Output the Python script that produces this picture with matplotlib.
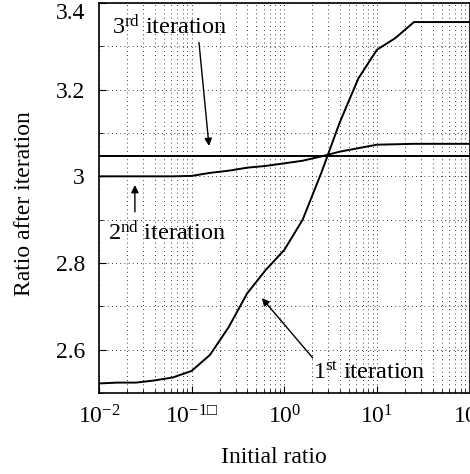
import numpy as np
import matplotlib
matplotlib.use("Agg")
import matplotlib.pyplot as plt
import matplotlib.transforms as mtransforms
from matplotlib.ticker import LogLocator, NullFormatter, MultipleLocator

plt.rcParams['font.family'] = ['Liberation Serif', 'DejaVu Sans']
plt.rcParams['mathtext.fontset'] = 'custom'
plt.rcParams['mathtext.rm'] = 'Liberation Serif'
plt.rcParams['mathtext.it'] = 'Liberation Serif:italic'
plt.rcParams['mathtext.fallback'] = 'stix'

initial_ratio = [0.01, 0.0158, 0.0251, 0.0398, 0.0631, 0.1, 0.158, 0.251, 0.398, 0.631,
                 1.0, 1.58, 2.51, 3.98, 6.31, 10.0, 15.8, 25.1, 39.8, 63.1, 100.0]
iter1 = [2.522, 2.524, 2.524, 2.529, 2.536, 2.551, 2.588, 2.652, 2.730, 2.784,
         2.830, 2.900, 3.008, 3.125, 3.226, 3.292, 3.319, 3.356, 3.356, 3.356, 3.356]
iter2 = [3.000, 3.000, 3.000, 3.000, 3.000, 3.001, 3.008, 3.013, 3.020, 3.024,
         3.030, 3.036, 3.046, 3.057, 3.065, 3.073, 3.074, 3.075, 3.075, 3.075, 3.075]
iter3 = [3.047] * len(initial_ratio)

x_ticks = [0.01, 0.1, 1, 10, 100]
x_ticklabels = [r'$10^{-2}$', '$10^{-1\u25a1}$', r'$10^{0}$', r'$10^{1}$', r'$10^{2}$']
y_ticks = [2.6, 2.8, 3.0, 3.2, 3.4]
y_ticklabels = ['2.6', '2.8', '3', '3.2', '3.4']

FS = 17

fig = plt.figure(figsize=(4.70, 4.74), dpi=100)
ax = fig.add_axes([99/470, 1-393/474, 1-99/470-0.001, (393-3)/474])

for y in (iter1, iter2, iter3):
    ax.plot(initial_ratio, y, color='black', lw=1.4)

ax.set_xscale('log')
ax.set_xlim(0.01, 100)
ax.set_ylim(2.5, 3.4)
ax.set_xticks(x_ticks)
ax.set_xticklabels(x_ticklabels)
ax.xaxis.set_minor_locator(LogLocator(base=10, subs=np.arange(2, 10)))
ax.xaxis.set_minor_formatter(NullFormatter())
ax.set_yticks(y_ticks)
ax.set_yticklabels(y_ticklabels)
ax.yaxis.set_minor_locator(MultipleLocator(0.1))

ax.grid(True, which='both', linestyle=(0, (1, 4)), color='black', lw=0.6)
ax.tick_params(which='both', direction='in', labelsize=17)
ax.tick_params(axis='y', pad=10)
ax.tick_params(axis='x', pad=9)
ax.tick_params(which='major', length=5)
ax.tick_params(which='minor', length=3)
for s in ax.spines.values():
    s.set_linewidth(1.2)

# top y tick label is shifted down to stay inside the figure
for lbl in ax.get_yticklabels():
    if lbl.get_text() == '3.4':
        lbl.set_transform(lbl.get_transform() +
                          mtransforms.ScaledTranslation(0, -8/100, fig.dpi_scale_trans))

ax.set_xlabel('Initial ratio', fontsize=FS)
ax.set_ylabel('Ratio after iteration', fontsize=FS)
ax.xaxis.set_label_coords(274/470, 1-447/474, transform=fig.transFigure)
ax.yaxis.set_label_coords(35/470, 1-203.5/474, transform=fig.transFigure)

arrow = dict(arrowstyle='-|>', color='black', lw=1.0, mutation_scale=11, shrinkA=0, shrinkB=0)

ax.text(0.0583, 3.345, r'3$^{\mathrm{rd}}$ iteration', fontsize=FS + 0.5, ha='center', va='center')
ax.annotate('', xy=(0.154, 3.070), xytext=(0.12, 3.309), arrowprops=arrow)

ax.text(0.0125, 2.869, r'2$^{\mathrm{nd}}$ iteration', fontsize=FS + 0.5, ha='left', va='center')
ax.annotate('', xy=(0.0244, 2.980), xytext=(0.0244, 2.918), arrowprops=arrow)

ax.text(2.03, 2.546, r'1$^{\mathrm{st}}$ iteration', fontsize=FS + 0.5, ha='left', va='center')
ax.annotate('', xy=(0.573, 2.719), xytext=(2.03, 2.581), arrowprops=arrow)

fig.savefig('out.png', dpi=100)
